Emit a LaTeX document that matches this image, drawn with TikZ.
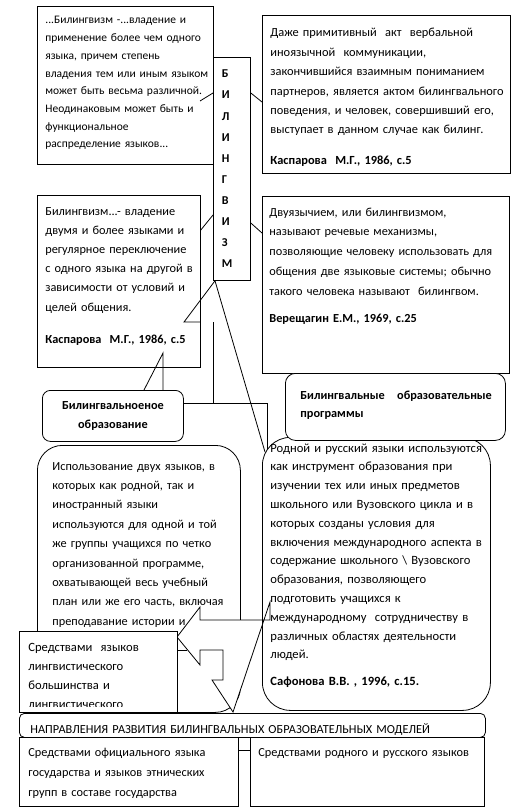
\documentclass[tikz,border=0pt]{standalone}
\usepackage{fontspec}
\setmainfont{Carlito}
\begin{document}
\begin{tikzpicture}[x=1pt,y=-1pt,line width=.8pt,
  font=\fontsize{12.3}{19.3}\selectfont,
  bx/.style={draw,fill=white,anchor=north west,inner sep=0pt},
  rbx/.style={bx,rounded corners=#1},
  tx/.style={anchor=base west,align=left,inner sep=0pt,text width=250pt}]
  \useasboundingbox (0,0) rectangle (524,810);
  % центральный блок
  \node[bx,minimum width=37,minimum height=223,text width=20pt,inner xsep=8.5pt,align=left,
    font=\bfseries\fontsize{12}{21.1}\selectfont] (bil) at (213,57) {Б\\И\\Л\\И\\Н\\Г\\В\\И\\З\\М};
  \coordinate (rrtop) at (265,452);
  \draw ([xshift=2]bil.south west) -- (rrtop);
  \draw (213,322) -- (213,403) -- (267,403) -- (267,450);
  \draw (183,403) -- (213,403);
  % определения
  \node[bx,minimum width=176,minimum height=158] (defA) at (37,6) {};
  \node[tx,font=\fontsize{11.5}{17.7}\selectfont] (defAt) at (45,24) {...Билингвизм -...владение и\\применение более чем одного\\языка, причем степень\\владения тем или иным языком\\может быть весьма различной.\\Неодинаковым может быть и\\функциональное\\распределение языков...};
  \node[bx,minimum width=248,minimum height=158] (defB) at (262,15) {};
  \node[tx,font=\fontsize{12.4}{19.4}\selectfont] (defBt) at (270,37) {Даже примитивный\ \ акт\ \ вербальной\\иноязычной\ \ коммуникации,\\закончившийся взаимным пониманием\\партнеров, является актом билингвального\\поведения, и человек, совершивший его,\\выступает в данном случае как билинг.\\[11pt]\textbf{Каспарова\ \ М.Г., 1986, с.5}};
  \node[bx,minimum width=163,minimum height=172] (defC) at (37,195) {};
  \node[tx,font=\fontsize{12.3}{19.2}\selectfont] (defCt) at (45,215) {Билингвизм...- владение\\двумя и более языками и\\регулярное переключение\\с одного языка на другой в\\зависимости от условий и\\целей общения.\\[13pt]\textbf{Каспарова\ \ М.Г., 1986, с.5}};
  \node[bx,minimum width=247,minimum height=177] (defD) at (262,196) {};
  \node[tx,font=\fontsize{12.3}{19.75}\selectfont] (defDt) at (269,216) {Двуязычием, или билингвизмом,\\называют речевые механизмы,\\позволяющие человеку использовать для\\общения две языковые системы; обычно\\такого человека называют\ \ билингвом.\\[8pt]\textbf{Верещагин Е.М., 1969, с.25}};
  \draw ([yshift=-36]bil.north west) -- ++(-13,8);
  \draw ([yshift=-36]bil.north east) -- ([yshift=-87]defB.north west);
  \draw ([yshift=-158]bil.north west) -- ([yshift=-35]defC.north east);
  \draw ([yshift=-166]bil.north east) -- ([yshift=-37]defD.north west);
  \draw (200,322) -- (184,322) -- ([xshift=2]bil.south west);
  % образование
  \node[rbx=8,minimum width=141,minimum height=51,align=center,
    font=\bfseries\fontsize{12.3}{19}\selectfont] (bo) at (42,390) {Билингвальноеное\\образование};
  \draw ([xshift=102]bo.north west) -- ++(19,-37) -- ++(0,37);
  \node[rbx=25,minimum width=203,minimum height=267] (ui) at (37,445) {};
  \node[tx,font=\fontsize{12.3}{19.4}\selectfont] (uit) at (52,470) {Использование двух языков, в\\которых как родной, так и\\иностранный языки\\используются для одной и той\\же группы учащихся по четко\\организованной программе,\\охватывающей весь учебный\\план или же его часть, включая\\преподавание истории и};
  \fill[white] (177,637) -- (200,607) -- (200,620) -- (270,620) -- (270,602) -- (233,712) -- (212,680)
    -- (223,680) -- (223,650) -- (200,650) -- (200,665) -- cycle;
  % программы
  \node[rbx=28,minimum width=228,minimum height=273] (rr) at (262,437) {};
  \node[tx,font=\fontsize{12.6}{18.8}\selectfont] (rrt) at (270,452) {Родной и русский языки используются\\как инструмент образования при\\изучении тех или иных предметов\\школьного или Вузовского цикла и в\\которых созданы условия для\\включения международного аспекта в\\содержание школьного \textbackslash{} Вузовского\\образования, позволяющего\\подготовить учащихся к\\международному\ \ сотрудничеству в\\различных областях деятельности\\людей.\\[8pt]\textbf{Сафонова В.В. , 1996, с.15.}};
  \draw (177,637) -- (200,607) -- (200,620) -- (270,620) -- (270,602) -- (233,712) -- (212,680)
    -- (223,680) -- (223,650) -- (200,650) -- (200,665) -- cycle;
  \draw (177,650) -- (187,650);
  \node[rbx=10,minimum width=220,minimum height=67] (bp) at (285,373) {};
  \node[tx,font=\bfseries\fontsize{12.3}{18}\selectfont] (bpt) at (300,399) {Билингвальные\ \ \ образовательные\\программы};
  % направления
  \node[bx,minimum width=158,minimum height=81] (se) at (19,631) {};
  \begin{scope}
    \clip (19,631) rectangle (177,706);
    \node[tx,font=\fontsize{12.6}{19.3}\selectfont] (set) at (28,651) {Средствами\ \ языков\\лингвистического\\большинства и\\лингвистического};
  \end{scope}
  \node[rbx=5,minimum width=466,minimum height=24] (hd) at (19,713) {};
  \node[tx,text width=460pt] (hdt) at (30,733) {НАПРАВЛЕНИЯ РАЗВИТИЯ БИЛИНГВАЛЬНЫХ ОБРАЗОВАТЕЛЬНЫХ МОДЕЛЕЙ};
  \node[bx,minimum width=219,minimum height=69] (gs) at (19,737) {};
  \node[tx,font=\fontsize{12.3}{20}\selectfont] (gst) at (28,756) {Средствами официального языка\\государства и языков этнических\\групп в составе государства};
  \node[bx,minimum width=234,minimum height=69] (hs) at (250,737) {};
  \node[tx] (hst) at (258,756) {Средствами родного и русского языков};
  \draw ([yshift=-13]gs.north east) -- ([yshift=-13]hs.north west);
\end{tikzpicture}
\end{document}
